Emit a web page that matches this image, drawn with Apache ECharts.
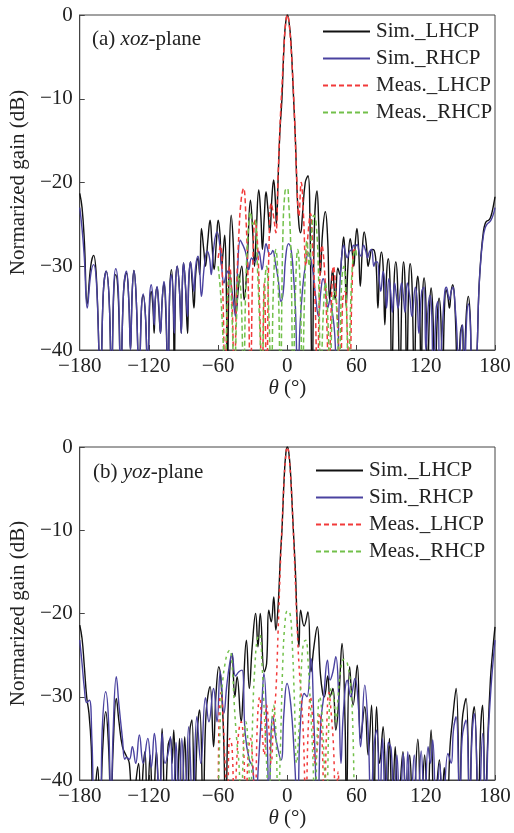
<!DOCTYPE html>
<html>
<head>
<meta charset="utf-8">
<script src="https://cdn.jsdelivr.net/npm/echarts@6/dist/echarts.min.js"></script>
<style>
html,body{margin:0;padding:0;background:#fff;}
#chart{width:514px;height:833px;}
</style>
</head>
<body>
<div id="chart"></div>
<script>
// ---------- DATA (theta in degrees, normalized gain in dB) ----------
const seriesNames = ['Sim._LHCP', 'Sim._RHCP', 'Meas._LHCP', 'Meas._RHCP'];
const panelTitles = ['xoz', 'yoz'];
const xTicks = [-180, -120, -60, 0, 60, 120, 180];
const yTicks = [-40, -30, -20, -10, 0];

// (a) xoz-plane
const xozSimLHCP = [
[-180,-21.3],[-178,-23],[-176,-27],[-173.5,-34.5],[-170.5,-30],[-168,-28.7],[-165.5,-31.5],[-162,-44],[-159.5,-33],[-157,-30.6],
[-154.5,-34],[-152.5,-44],[-150.5,-33],[-148.8,-31],[-146.5,-34],[-144.5,-44],[-142,-33],[-139.5,-30.8],[-137.5,-34],[-136,-40],
[-134.5,-33],[-133,-30.5],[-131,-34],[-128.5,-44],[-126.5,-35],[-125,-33.5],[-123,-36],[-121,-44],[-119.5,-35],[-118,-33],
[-116.5,-35],[-115.5,-38],[-114.5,-34],[-113,-32.5],[-111.5,-35],[-110,-38],[-108.5,-34],[-107,-32],[-105.5,-35],[-103.5,-44],
[-102,-33],[-100.5,-30.4],[-99,-34],[-98,-44],[-97,-33],[-95.5,-30],[-93.5,-33],[-92,-38],[-91,-32],[-90,-29.6],
[-88.5,-32],[-86.5,-38],[-85.5,-32],[-84,-29.5],[-82.5,-32],[-81,-35],[-79.5,-31],[-77.5,-29],[-76,-31],[-74.5,-25.5],
[-72.5,-28],[-71,-30],[-69,-27],[-67,-24.5],[-65.5,-27],[-63.5,-30.4],[-61.5,-27],[-60,-24.5],[-58.5,-26],[-57,-30],
[-55.5,-28],[-54.3,-26.3],[-53,-32],[-52,-44],[-50.5,-30],[-48.7,-23.9],[-47,-27],[-44.5,-35.6],[-42,-32],[-39.5,-30],
[-37.5,-34],[-35,-30],[-32,-22.1],[-30,-26],[-28.5,-30],[-27,-26],[-24.8,-20.9],[-23,-24],[-21.6,-28],[-20,-24],
[-18.5,-21.1],[-17,-23],[-15.2,-26],[-13.5,-22],[-11.9,-19.7],[-10.5,-22],[-9.5,-25],[-8,-19.5],[-6.5,-14],[-4.7,-10],
[-2.7,-3],[-1.2,-0.6],[0,0],[1.2,-0.6],[3,-3],[5.4,-10],[7,-15],[8.4,-21],[10,-25],[11.5,-26],
[13,-24],[15.5,-20],[17.9,-19.2],[19.5,-24],[21.5,-44],[23.5,-25],[25.7,-21],[27.2,-25],[28.6,-31],[30.5,-26],
[32.9,-23.5],[35,-27],[36.6,-34],[38,-32],[39.2,-30.4],[41.5,-34],[43.8,-30.2],[45.5,-31],[47,-29],[48.8,-26.5],
[50,-29],[51,-34.8],[52.5,-30],[54.5,-26.7],[56,-28],[57.6,-30],[59,-27],[60.3,-25.5],[61.8,-28],[63.2,-32.4],
[65,-28],[66.6,-25.9],[68.5,-27.5],[70,-30],[71.5,-29],[73.3,-28],[75.3,-28.1],[77,-30],[78.5,-35],[80,-30],
[81.5,-28.3],[83,-30],[84.5,-37],[86,-31],[87.5,-29.1],[89,-32],[90.5,-44],[92.5,-32],[94,-29.5],[95.5,-32],
[97.5,-44],[99.5,-32],[100.7,-29.5],[102,-32],[103.5,-44],[105.2,-32],[106.4,-29.7],[108,-32],[110,-44],[111.8,-33],
[113.1,-31.2],[114.5,-34],[116,-44],[117.3,-33.5],[118.5,-31.4],[120,-34],[121.5,-44],[123.3,-35],[124.6,-32.6],[126,-35],
[128,-44],[130,-36],[131.5,-33.8],[133,-36],[134.5,-44],[136.2,-35],[137.6,-32.8],[139,-33.5],[140.5,-35],[142,-33],
[143.4,-32.2],[145,-34],[148,-44],[150,-38],[151.5,-37],[153,-44],[155,-36],[156.9,-33.6],[158.5,-36],[160.5,-44],
[163,-44],[164.5,-40],[166,-33],[168,-28.5],[170,-25.8],[171.5,-24.9],[173,-24.6],[174.5,-24.5],[176,-24.2],[177.5,-23.5],
[179,-22.5],[180,-21.7]
];
const xozSimRHCP = [
[-180,-23],[-178,-25.5],[-176,-29],[-173.5,-35],[-170.5,-31],[-168,-29.8],[-165.5,-32],[-162,-44],[-159.5,-33],[-157,-30.6],
[-154.5,-34],[-152.5,-44],[-150.5,-32.5],[-148.8,-30.3],[-146.5,-33],[-144.5,-44],[-142,-33],[-139.5,-30.6],[-137.5,-34],[-136,-40],
[-134.5,-33],[-133,-30.5],[-131,-34],[-128.5,-44],[-126.5,-35],[-125,-33.3],[-123,-36],[-121,-44],[-119.5,-34],[-118,-32.2],
[-116.5,-34],[-115.5,-37],[-114.5,-34],[-113,-32.4],[-111.5,-34.5],[-110,-38],[-108.5,-34],[-107,-31.8],[-105.5,-34],[-103.5,-44],
[-102,-33],[-100.5,-31],[-99,-34],[-98,-38],[-97,-32],[-95.5,-30],[-93.5,-33],[-92,-38],[-91,-32],[-90,-29.6],
[-88.5,-32],[-86.5,-36],[-85.5,-31.5],[-84,-29.5],[-82.5,-31],[-81,-33],[-79.5,-30],[-77.5,-28.8],[-76,-30.5],[-74.5,-33.6],
[-72,-30],[-69.5,-28.2],[-67.5,-29],[-66,-31],[-64,-28],[-61,-25.9],[-59,-27],[-57,-30],[-55,-32],[-53,-31],
[-51,-30.5],[-49,-32],[-47,-34],[-45,-36],[-43,-30],[-40.8,-26.9],[-38.5,-27.5],[-36.5,-28.2],[-34.5,-29.5],[-33.5,-30.4],
[-31,-29],[-28.5,-29.5],[-26.5,-29],[-24.8,-28.2],[-23,-29.5],[-22,-30.4],[-20,-28.5],[-18.5,-27.3],[-17,-28],[-15.6,-28.6],
[-14,-28.5],[-12.7,-28.1],[-10.5,-29.5],[-8,-31.5],[-5.5,-34.2],[-3.5,-33],[-1.5,-29],[1,-27.3],[3,-27.8],[5,-30.5],
[7,-35],[9,-44],[11,-37],[13,-33],[15.5,-30],[18.4,-28.4],[20,-29],[22,-30.5],[24,-33],[27,-36],
[29,-33],[31,-31.5],[33,-32.5],[35,-35],[37,-34],[39,-35.5],[41,-38],[43,-44],[45,-34],[47,-29],
[48.8,-27.5],[50.5,-28.5],[52,-29],[54,-28.2],[56,-28],[57.5,-27.5],[59,-27.6],[60.5,-27.4],[62.5,-28.5],[64,-28.8],
[66,-27.5],[68,-28.2],[69.5,-29],[71,-28.3],[73,-28],[75,-30],[76.5,-29.5],[78,-29.5],[79.5,-31.5],[81,-33],
[83,-30.6],[85,-33],[86,-35],[88,-31.5],[89.5,-33],[91,-35.5],[93,-32],[94.5,-33.5],[96,-35],[99,-32],
[100.5,-33.5],[102,-35.5],[104,-32],[106,-33.5],[108,-36],[111,-32.5],[112.5,-34],[114,-38],[116.5,-33],[118.5,-32.5],
[120,-40],[122,-35],[123.5,-33.5],[125,-35],[126.5,-44],[129,-35],[130.5,-34.2],[132,-44],[134.5,-37],[136.5,-33],
[137.8,-32.5],[139.5,-33.5],[140.5,-34],[142,-33],[143.6,-32.5],[145.5,-35],[147,-38],[148.5,-44],[150.5,-38],[152,-37],
[153.5,-44],[155.5,-36],[157,-34.5],[158.5,-36.5],[160.5,-44],[163,-44],[164.5,-40],[166,-33],[168,-28.7],[170,-26.3],
[171.5,-25.4],[173,-25],[174.5,-24.8],[176,-24.6],[177.5,-24.2],[179,-23.6],[180,-23]
];
const xozMeasLHCP = [
[-60,-29],[-58,-27.5],[-56,-33],[-54,-44],[-52,-35],[-50,-30],[-48,-34],[-46,-44],[-44,-33],[-42,-26],
[-40,-22],[-38,-20.7],[-36,-24],[-34,-32],[-32,-44],[-30,-30],[-28,-24.5],[-26,-27],[-24,-35],[-22,-44],
[-20,-32],[-18,-44],[-16,-28],[-14,-22.5],[-12,-24],[-10,-26],[-8,-19],[-6,-12],[-4.5,-8],[-3,-4],
[-1.5,-1],[0,0],[1.5,-1],[3,-3.5],[4.5,-7],[6,-11.5],[8,-19],[10,-24],[12,-20],[14,-24],
[16,-30],[18,-26],[20,-23.7],[22,-28],[24,-34],[26,-44],[28,-32],[30,-27.5],[32,-30],[34,-36],
[36,-44],[38,-35],[40,-30],[42,-33],[44,-38],[46,-44],[48,-34],[50,-33],[52,-38],[54,-44],
[56,-33],[58,-28],[60,-28.5]
];
const xozMeasRHCP = [
[-60,-30],[-58,-33],[-56,-38],[-54,-44],[-52,-34],[-50,-31],[-48,-36],[-46,-44],[-44,-36],[-42,-31],
[-40,-34],[-38,-44],[-36,-32],[-34,-26],[-32,-23.5],[-30,-25],[-28,-24.5],[-26,-30],[-24,-37],[-22,-44],
[-20,-33],[-18,-30],[-16,-36],[-14,-44],[-12,-32],[-10,-28],[-8,-32],[-6,-44],[-4,-27],[-2,-21],
[0,-20.7],[1,-22],[3,-28],[5,-44],[7,-33],[9,-28],[11,-32],[13,-44],[15,-33],[17,-27],
[19,-30],[21,-26],[23,-23.9],[25,-25],[27,-31],[29,-44],[31,-36],[33,-32],[35,-36],[37,-44],
[39,-35],[41,-33],[43,-36],[45,-44],[47,-32],[49,-30],[51,-34],[53,-44],[55,-34],[57,-29],
[59,-28],[60,-29]
];

// (b) yoz-plane
const yozSimLHCP = [
[-180,-21.4],[-178,-23],[-176,-26.4],[-174,-30],[-172,-32],[-170,-36],[-168.5,-44],[-166.5,-41],[-164.5,-38.4],[-162.5,-44],
[-160,-36],[-157.5,-31.8],[-155,-36],[-153,-44],[-151,-36],[-148.3,-30.2],[-146,-33],[-143,-36],[-140,-37],[-137,-38],
[-134.5,-44],[-132,-41],[-129,-38],[-127,-44],[-125,-38.5],[-123.4,-36.6],[-121.5,-44],[-119,-37],[-116.5,-44],[-113.5,-36.5],
[-111,-44],[-108.6,-33.8],[-106,-44],[-103.5,-36],[-101.3,-35],[-100,-38],[-98.5,-34],[-96,-44],[-93.5,-35],[-91.5,-44],
[-89,-34.8],[-86.5,-44],[-84.5,-34],[-82.7,-32.8],[-80.5,-44],[-78,-34],[-76,-31.6],[-73,-44],[-70.5,-32],[-67,-28.8],
[-64,-36],[-62,-30],[-59.5,-26.4],[-56,-32],[-53.5,-44],[-51,-30],[-48,-24.8],[-45.5,-30],[-43.6,-27.6],[-40,-33],
[-38.5,-30],[-35.5,-23.2],[-33,-29],[-30.5,-24],[-27.5,-20],[-25.5,-24],[-23.5,-20],[-20,-27],[-18,-26],[-16.1,-19.6],
[-14,-21],[-11.8,-18],[-10,-22],[-8,-19],[-6,-13],[-4.7,-10],[-2.7,-3.5],[-1.2,-0.6],[0,0],[1.2,-0.6],
[2.7,-3],[5,-9.5],[7,-15],[8.5,-21],[10,-24],[11.5,-19.6],[14.5,-21.5],[17.8,-19.8],[20.5,-27],[23,-24],
[25.9,-21.6],[28.5,-27],[30.5,-29.5],[32,-30],[35,-27.5],[37,-30],[39.5,-29],[42,-34],[44.5,-30.5],[47.4,-23.6],
[50,-33],[51.2,-44],[54,-26.4],[57,-31],[60.6,-26.2],[63.5,-35],[67.1,-31.2],[70,-37],[73,-31],[75,-44],
[77.3,-31.2],[80,-38],[83,-33.6],[86,-44],[88.5,-35],[91,-44],[93.5,-36],[96,-44],[100.2,-36.6],[103,-44],
[106,-37],[109,-44],[113.1,-35.1],[116,-44],[119,-37],[121.5,-44],[124.6,-34],[127.5,-44],[131.8,-37.6],[134,-44],
[136,-38.5],[138.5,-44],[141,-36],[143,-33],[146.3,-29],[149.5,-44],[151.5,-33],[154.9,-30.2],[158,-44],[160,-34],
[162.1,-31.2],[165.5,-44],[167.5,-34],[169.3,-31],[171.5,-44],[173.5,-36],[176,-28],[178,-24.5],[180,-21.6]
];
const yozSimRHCP = [
[-180,-23.2],[-178,-26],[-176,-29],[-174,-30.7],[-171.6,-30.4],[-169.5,-35],[-167,-44],[-164,-42],[-162,-44],[-160.5,-34],
[-157.5,-29.4],[-155,-33],[-153,-44],[-151,-34],[-148.3,-27.6],[-146,-31],[-143,-35],[-141,-37.5],[-139.7,-37.3],[-137,-37.5],
[-134.4,-36],[-131.5,-38],[-128.3,-34.6],[-125,-38],[-121,-35],[-118,-38.5],[-115.3,-34.4],[-113,-38],[-110.5,-44],[-108.6,-34.4],
[-106,-38],[-103,-36.5],[-101.3,-34.8],[-99,-44],[-96.5,-35.5],[-94,-44],[-91.5,-35],[-88.5,-44],[-85.6,-33.6],[-82,-44],
[-78.5,-32.4],[-75,-38],[-71,-30.1],[-68,-33],[-64,-29],[-61,-33],[-58.2,-27],[-55,-32],[-52.5,-28.6],[-50,-26],
[-48,-24.8],[-45,-27.5],[-42,-27],[-39.3,-26.8],[-36.6,-34.4],[-33,-37.6],[-30,-38.5],[-28,-44],[-25,-38],[-22.5,-32],
[-20.3,-27.2],[-17.5,-35],[-16,-44],[-14,-34],[-12.7,-32.4],[-10,-35],[-5.5,-37.6],[-3,-32],[-0.3,-28.4],[3,-31],
[6,-37],[8.9,-44],[11,-34],[14.7,-29.6],[17,-30],[20.4,-25.4],[23,-33],[26.2,-44],[29,-33],[31.5,-30],
[34.8,-25.6],[37,-28],[39.5,-27],[42,-25.2],[44.5,-30],[46.5,-38],[48.5,-32],[52,-28],[55,-30],[58.6,-27.8],
[61.5,-31],[63.5,-36],[67.1,-28.6],[70,-34],[72.5,-44],[75,-36],[77.5,-34],[80,-44],[82.5,-35],[85,-44],
[87.5,-35.5],[90,-36.3],[92.5,-44],[95,-37],[97.5,-44],[100.5,-36.8],[102.5,-44],[104.4,-36.6],[107,-44],[110,-37],
[113,-44],[116,-36.5],[119,-44],[122,-36],[124,-38],[126,-35.2],[129,-44],[132,-38],[135,-44],[139.2,-36.8],
[142,-38],[144,-34],[146.3,-32.4],[149.5,-44],[151.5,-35],[154.9,-32.8],[158,-44],[160,-35],[162.1,-32],[166,-44],
[169.3,-34.4],[172,-44],[174,-35],[176.5,-29],[178.5,-25.5],[180,-23.2]
];
const yozMeasLHCP = [
[-60,-44],[-59,-31],[-57.5,-29.5],[-56,-32],[-54,-38],[-52,-44],[-50,-35],[-48,-36],[-46,-44],[-44,-38],
[-42,-34],[-40,-33],[-38,-36],[-36,-44],[-34,-37],[-32,-35],[-30,-38],[-28,-44],[-26,-33],[-24,-30],
[-22,-34],[-20,-37],[-18,-31],[-16,-34],[-14,-38],[-12,-33],[-10,-29.5],[-8,-22],[-6,-14],[-4.5,-9],
[-3,-4.5],[-1.5,-1.2],[0,0],[1.5,-1.2],[3,-4],[4.5,-8],[6,-13],[8,-20],[10,-26],[12,-30],
[14,-35],[16,-44],[18,-34],[20,-30],[22,-33],[24,-38],[26,-36],[28,-32],[30,-35],[32,-44],
[34,-34],[36,-29.5],[38,-32],[40,-36],[42,-44],[44,-39],[45,-44]
];
const yozMeasRHCP = [
[-60,-44],[-58,-32],[-56,-28],[-54,-26],[-52,-24.8],[-50,-24.4],[-48,-26],[-46,-31],[-44,-35],[-42,-38],
[-40,-44],[-38,-36],[-36,-33],[-34,-36],[-32,-44],[-30,-32],[-28,-26],[-26,-23],[-24,-22.5],[-22,-26],
[-20,-32],[-18,-38],[-16,-44],[-14,-35],[-12,-31],[-10,-34],[-8,-44],[-6,-36],[-4,-26],[-2,-21],
[0,-19.7],[2,-19.8],[4,-23],[6,-30],[8,-38],[10,-34],[12,-27],[14,-23.5],[16,-23.2],[18,-26],
[20,-31],[22,-37],[24,-44],[26,-34],[28,-30],[30,-32],[32,-38],[34,-44],[36,-33],[38,-29],
[40,-30],[42,-33],[44,-30],[46,-27],[49,-25.5],[52,-26],[55,-29],[57,-35],[58,-44]
];

// ---------- CHART ----------
const FONT = '"Liberation Serif","Times New Roman",serif';
const TXT = '#222';
const AX = '#444';
const COLORS = ['#111111', '#4a42a0', '#f23a3a', '#72c04a'];
const minus = v => (v < 0 ? '\u2212' + (-v) : String(v));

const grids = [
  {left: 79, top: 15, width: 416, height: 335},
  {left: 79, top: 447, width: 416, height: 333}
];

function xAxis(i) {
  return {
    type: 'value', gridIndex: i, min: xTicks[0], max: xTicks[xTicks.length - 1], interval: 60,
    axisLine: {show: true, onZero: false, lineStyle: {color: AX, width: 1}},
    axisTick: {show: true, inside: true, length: 5, lineStyle: {color: AX}},
    axisLabel: {fontFamily: FONT, fontSize: 21, color: TXT, margin: 6, formatter: minus},
    splitLine: {show: false},
    name: '{i|\u03b8} (\u00b0)', nameLocation: 'middle', nameGap: 26,
    nameTextStyle: {fontFamily: FONT, fontSize: 21, color: TXT,
      rich: {i: {fontFamily: FONT, fontSize: 21, fontStyle: 'italic', color: TXT}}}
  };
}
function yAxis(i) {
  return {
    type: 'value', gridIndex: i, min: yTicks[0], max: yTicks[yTicks.length - 1], interval: 10,
    axisLine: {show: true, onZero: false, lineStyle: {color: AX, width: 1}},
    axisTick: {show: true, inside: true, length: 5, lineStyle: {color: AX}},
    axisLabel: {fontFamily: FONT, fontSize: 21, color: TXT, margin: 7, formatter: minus},
    splitLine: {show: false},
    name: 'Normarized gain (dB)', nameLocation: 'middle', nameGap: 43,
    nameTextStyle: {fontFamily: FONT, fontSize: 21, color: TXT}
  };
}

const panelData = [
  [xozSimLHCP, xozSimRHCP, xozMeasLHCP, xozMeasRHCP],
  [yozSimLHCP, yozSimRHCP, yozMeasLHCP, yozMeasRHCP]
];
const dashes = [[5, 3], [3, 4]];

const series = [];
panelData.forEach((arr, p) => {
  arr.forEach((d, k) => {
    series.push({
      name: seriesNames[k], type: 'line', xAxisIndex: p, yAxisIndex: p,
      data: d, symbol: 'none', showSymbol: false, smooth: 0.45, clip: true,
      lineStyle: {color: COLORS[k], width: k < 2 ? 1.4 : 1.5, type: k < 2 ? 'solid' : dashes[p]},
      itemStyle: {color: COLORS[k]},
      emphasis: {disabled: true}, animation: false
    });
  });
});

const legendBase = {
  orient: 'vertical', itemWidth: 47, itemHeight: 14, itemGap: 6, padding: 0,
  data: seriesNames, selectedMode: false,
  itemStyle: {opacity: 0},
  textStyle: {fontFamily: FONT, fontSize: 21, color: TXT, padding: [0, 0, 0, 1]}
};

const chart = echarts.init(document.getElementById('chart'), null, {renderer: 'canvas'});
chart.setOption({
  backgroundColor: '#fff',
  animation: false,
  grid: grids.map(g => Object.assign({show: true, borderColor: AX, borderWidth: 1, backgroundColor: 'transparent'}, g)),
  xAxis: [xAxis(0), xAxis(1)],
  yAxis: [yAxis(0), yAxis(1)],
  title: [
    {text: '(a) {i|' + panelTitles[0] + '}-plane', left: 92, top: 29, padding: 0,
     textStyle: {fontFamily: FONT, fontSize: 21, fontWeight: 'normal', color: TXT,
       rich: {i: {fontFamily: FONT, fontSize: 21, fontStyle: 'italic', color: TXT}}}},
    {text: '(b) {i|' + panelTitles[1] + '}-plane', left: 93, top: 462, padding: 0,
     textStyle: {fontFamily: FONT, fontSize: 21, fontWeight: 'normal', color: TXT,
       rich: {i: {fontFamily: FONT, fontSize: 21, fontStyle: 'italic', color: TXT}}}}
  ],
  legend: [
    Object.assign({left: 322, top: 21}, legendBase),
    Object.assign({left: 315, top: 460}, legendBase)
  ],
  series: series
});
</script>
</body>
</html>
